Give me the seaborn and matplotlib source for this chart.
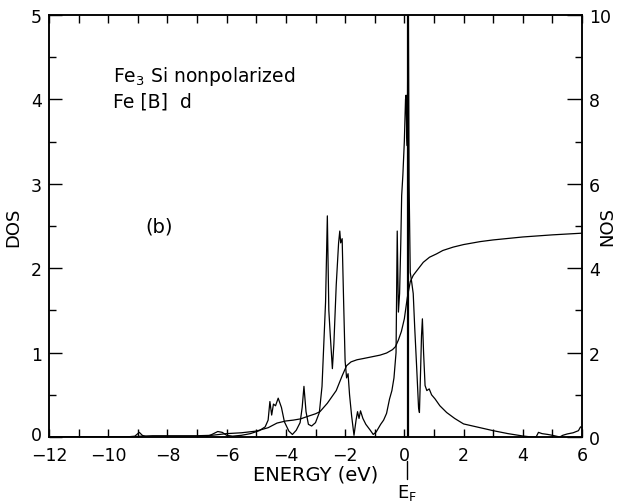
import matplotlib
matplotlib.use("Agg")
import matplotlib.pyplot as plt
import matplotlib.transforms as mtrans
import seaborn as sns
import numpy as np
import pandas as pd
from matplotlib.ticker import MultipleLocator

# ---- data ----
energy_dos = [-12.0, -10.0, -9.4, -9.1, -8.95, -8.85, -8.7, -7.0, -6.7, -6.5, -6.3, -6.15, -6.0,
              -5.8, -5.5, -5.2, -4.9, -4.7, -4.6, -4.54, -4.48, -4.42, -4.35, -4.26, -4.15, -4.05,
              -3.9, -3.78, -3.65, -3.52, -3.45, -3.39, -3.32, -3.24, -3.13, -3.0, -2.87, -2.78,
              -2.72, -2.66, -2.6, -2.55, -2.5, -2.43, -2.38, -2.3, -2.22, -2.18, -2.15, -2.1,
              -2.05, -2.0, -1.95, -1.9, -1.85, -1.78, -1.7, -1.63, -1.58, -1.53, -1.48, -1.4,
              -1.3, -1.15, -1.05, -0.95, -0.8, -0.7, -0.6, -0.5, -0.42, -0.35, -0.28, -0.24,
              -0.2, -0.16, -0.12, -0.09, -0.05, 0.0, 0.04, 0.06, 0.08, 0.1, 0.13, 0.16, 0.2,
              0.25, 0.3, 0.35, 0.42, 0.48, 0.51, 0.55, 0.58, 0.61, 0.65, 0.7, 0.76, 0.84, 0.92,
              1.04, 1.2, 1.43, 1.7, 2.0, 2.5, 3.0, 3.5, 4.0, 4.3, 4.45, 4.53, 4.65, 4.85, 5.0,
              5.25, 5.35, 5.5, 5.7, 5.88, 5.95, 6.0]
dos = [0.0, 0.0, 0.0, 0.01, 0.055, 0.02, 0.0, 0.0, 0.0, 0.03, 0.065, 0.055, 0.02,
       0.01, 0.02, 0.04, 0.075, 0.12, 0.2, 0.42, 0.26, 0.39, 0.37, 0.46, 0.35, 0.18,
       0.07, 0.03, 0.08, 0.17, 0.35, 0.60, 0.30, 0.15, 0.13, 0.17, 0.29, 0.6,
       1.1, 1.6, 2.62, 1.5, 1.2, 0.81, 1.1, 1.8, 2.3, 2.44, 2.3, 2.35,
       1.6, 0.9, 0.7, 0.75, 0.5, 0.25, 0.02, 0.2, 0.30, 0.22, 0.31, 0.22,
       0.15, 0.08, 0.03, 0.06, 0.15, 0.2, 0.28, 0.45, 0.55, 0.7, 1.0, 2.44,
       1.48, 1.7, 2.3, 2.86, 3.1, 3.5, 4.0, 4.05, 3.6, 3.45, 5.5, 3.0, 1.95,
       1.83, 1.7, 1.3, 0.8, 0.35, 0.29, 0.8, 1.2, 1.40, 1.0, 0.61, 0.55, 0.57, 0.5,
       0.45, 0.37, 0.29, 0.22, 0.155, 0.115, 0.075, 0.04, 0.012, 0.0, 0.0, 0.055, 0.04, 0.03, 0.02,
       0.0, 0.02, 0.036, 0.05, 0.075, 0.12, 0.11]

energy_nos = [-12.0, -10.0, -9.2, -8.9, -8.5, -7.0, -6.5, -6.0, -5.5, -5.0, -4.6, -4.3, -4.0,
              -3.75, -3.5, -3.3, -3.0, -2.85, -2.6, -2.45, -2.3, -2.1, -1.95, -1.8, -1.6,
              -1.38, -1.1, -0.82, -0.6, -0.4, -0.3, -0.2, -0.1, 0.0, 0.1, 0.2, 0.3, 0.42,
              0.64, 0.85, 1.09, 1.3, 1.65, 2.0, 2.56, 3.0, 4.0, 5.0, 6.0]
nos = [0.0, 0.0, 0.0, 0.02, 0.03, 0.03, 0.04, 0.08, 0.1, 0.14, 0.22, 0.33, 0.38,
       0.40, 0.43, 0.48, 0.55, 0.6, 0.8, 0.95, 1.1, 1.45, 1.69, 1.78, 1.83,
       1.86, 1.9, 1.94, 1.99, 2.07, 2.14, 2.3, 2.5, 2.8, 3.3, 3.68, 3.83, 3.94,
       4.14, 4.26, 4.34, 4.42, 4.50, 4.56, 4.63, 4.67, 4.74, 4.79, 4.83]

fermi_energy = 0.12
x_ticks = [-12, -10, -8, -6, -4, -2, 0, 2, 4, 6]
dos_ticks = [0, 1, 2, 3, 4, 5]
nos_ticks = [0, 2, 4, 6, 8, 10]

# ---- figure ----
sns.set_style("ticks")
plt.rcParams['font.family'] = ['DejaVu Sans']
plt.rcParams['axes.linewidth'] = 1.1
plt.rcParams['text.color'] = 'black'
plt.rcParams['axes.labelcolor'] = 'black'
plt.rcParams['xtick.color'] = 'black'
plt.rcParams['ytick.color'] = 'black'
plt.rcParams['axes.edgecolor'] = 'black'

fig = plt.figure(figsize=(6.29, 5.02), dpi=100)
ax = fig.add_axes([49/629, 64/502, 533/629, 422/502])

df_dos = pd.DataFrame({"E": energy_dos, "DOS": dos})
df_nos = pd.DataFrame({"E": energy_nos, "NOS": nos})

sns.lineplot(data=df_dos, x="E", y="DOS", ax=ax, color="black", lw=0.9, estimator=None)
ax.axvline(fermi_energy, color="black", lw=1.6)

ax.set_xlim(-12, 6)
ax.set_ylim(0, 5)
ax.set_xticks(x_ticks)
ax.set_yticks(dos_ticks)
ax.xaxis.set_minor_locator(MultipleLocator(1))
ax.yaxis.set_minor_locator(MultipleLocator(0.5))
ax.tick_params(axis="x", which="both", direction="in", length=6, width=1, top=True,
               labelsize=12.5, pad=6.5)
ax.tick_params(axis="y", which="major", direction="in", length=9, width=1, labelsize=12.5,
               pad=5)
ax.tick_params(axis="y", which="minor", direction="in", length=5, width=1)

ax2 = ax.twinx()
sns.lineplot(data=df_nos, x="E", y="NOS", ax=ax2, color="black", lw=0.9, estimator=None)
ax2.set_ylim(0, 10)
ax2.set_yticks(nos_ticks)
ax2.yaxis.set_minor_locator(MultipleLocator(1))
ax2.tick_params(axis="y", which="major", direction="in", length=11, width=1, labelsize=12.5,
                pad=5)
ax2.tick_params(axis="y", which="minor", direction="in", length=5, width=1)
ax2.set_xlim(-12, 6)

ax.set_xlabel("ENERGY (eV)", fontsize=14, labelpad=0)
ax.set_ylabel("DOS", fontsize=13, labelpad=6)
ax2.set_ylabel("NOS", fontsize=13, labelpad=4, rotation=90, va="bottom")

# nudge the lowest DOS tick label up slightly so it does not touch "-12"
zero_lab = ax.yaxis.get_major_ticks()[0].label1
zero_lab.set_transform(zero_lab.get_transform()
                       + mtrans.ScaledTranslation(0, 3 / 72, fig.dpi_scale_trans))

# texts
ax.text(-9.85, 4.22, "Fe$_\\mathregular{3}$ Si nonpolarized", fontsize=13.5, ha="left",
        va="baseline")
ax.text(-9.85, 3.92, "Fe [B]  d", fontsize=13.5, ha="left", va="baseline")
ax.text(-8.76, 2.43, "(b)", fontsize=14, ha="left", va="baseline")

# Fermi level marker below axis
ax.plot([fermi_energy - 0.03, fermi_energy - 0.03], [-0.285, -0.5], color="black", lw=1.0,
        clip_on=False)
ax.text(fermi_energy - 0.03, -0.53, "E$_\\mathregular{F}$", fontsize=13, ha="center", va="top")

fig.savefig("out.png", dpi=100)
